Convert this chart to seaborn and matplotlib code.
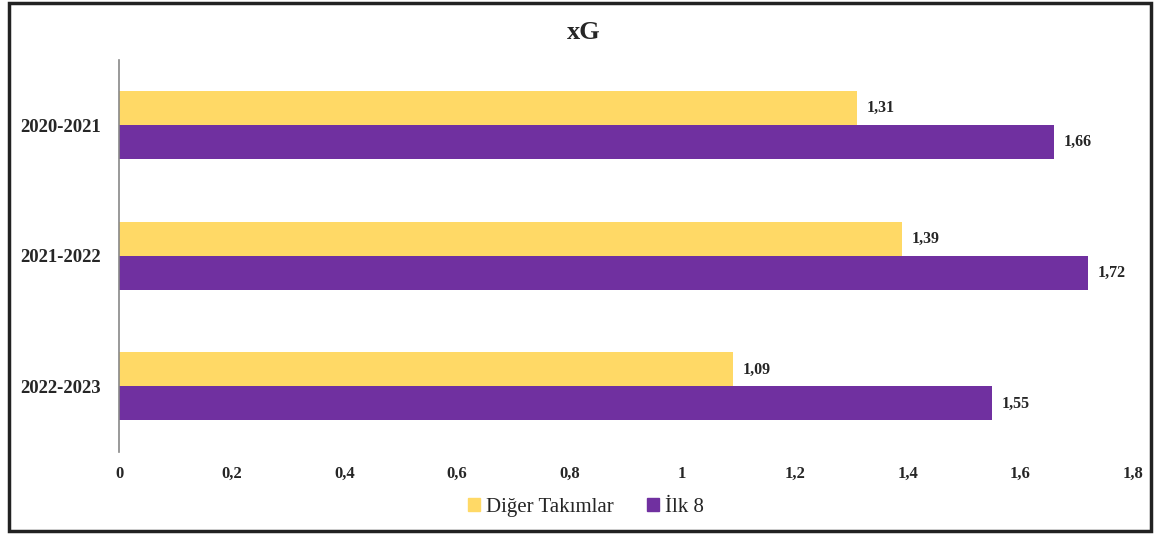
import pandas as pd
import numpy as np
import matplotlib.pyplot as plt
import seaborn as sns
from matplotlib.patches import Rectangle
from matplotlib.ticker import FuncFormatter

# chart data
seasons = ['2020-2021', '2021-2022', '2022-2023']
groups = ['Diğer Takımlar', 'İlk 8']
diger = [1.31, 1.39, 1.09]
ilk8 = [1.66, 1.72, 1.55]
xticks = [0, 0.2, 0.4, 0.6, 0.8, 1, 1.2, 1.4, 1.6, 1.8]

df = pd.DataFrame({
    'season': seasons * 2,
    'group': [groups[0]] * 3 + [groups[1]] * 3,
    'xG': diger + ilk8,
})

sns.set_style('white')
plt.rcParams['font.family'] = ['Liberation Serif', 'DejaVu Serif']

fig = plt.figure(figsize=(11.56, 5.34), dpi=100)
ax = fig.add_axes([0.103, 0.154, 0.877, 0.734])

colors = {'Diğer Takımlar': '#FFD966', 'İlk 8': '#7030A0'}
sns.barplot(data=df, y='season', x='xG', hue='group', orient='h',
            palette=colors, width=0.52, ax=ax, legend=False,
            saturation=1, linewidth=0)

# value labels
for cont in ax.containers:
    ax.bar_label(cont, labels=[f'{v.get_width():.2f}'.replace('.', ',') for v in cont],
                 padding=7, fontsize=11.5, fontweight='bold')

ax.set_xlim(0, 1.8)
ax.set_ylim(2.5, -0.5)
ax.set_xticks(xticks)
ax.xaxis.set_major_formatter(FuncFormatter(lambda v, p: f'{v:g}'.replace('.', ',')))
ax.set_xlabel('')
ax.set_ylabel('')
for lab in ax.get_xticklabels():
    lab.set_fontweight('bold')
    lab.set_fontsize(12)
for lab in ax.get_yticklabels():
    lab.set_fontweight('bold')
    lab.set_fontsize(13.5)
ax.tick_params(axis='y', length=0, pad=13)
ax.tick_params(axis='x', length=0, pad=10)

for s in ['top', 'right', 'bottom']:
    ax.spines[s].set_visible(False)
ax.spines['left'].set_color('#888888')
ax.spines['left'].set_linewidth(1.2)

fig.text(0.505, 0.94, 'xG', ha='center', va='center', fontsize=19, fontweight='bold')

handles = [plt.Rectangle((0, 0), 1, 1, color=colors[g]) for g in groups]
fig.legend(handles, groups, loc='center', bbox_to_anchor=(0.507, 0.05), ncol=2,
           frameon=False, fontsize=15, handlelength=0.55, handleheight=0.55,
           handletextpad=0.3, columnspacing=1.6)

# outer border
fig.patches.append(Rectangle((0.008, 0.006), 0.988, 0.988, transform=fig.transFigure,
                             fill=False, edgecolor='#222222', linewidth=2.5))

fig.savefig('out.png', dpi=100)
